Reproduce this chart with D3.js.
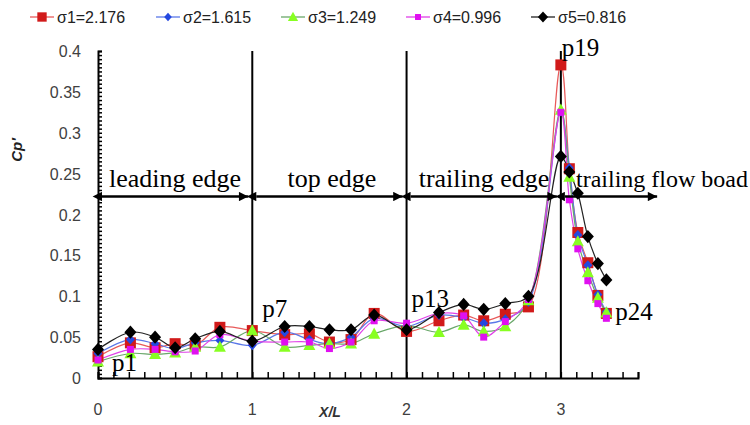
<!DOCTYPE html>
<html>
<head>
<meta charset="utf-8">
<script src="https://cdn.jsdelivr.net/npm/d3@7"></script>
<style>
  html, body { margin: 0; padding: 0; background: #fff; }
  svg { display: block; }
</style>
</head>
<body>
<svg id="chart" width="750" height="425"></svg>
<script>
// Pressure-tap positions along the body (X/L), taps p1..p24
const xPos = [0, 0.21, 0.37, 0.5, 0.63, 0.79, 1.0,
              1.21, 1.37, 1.5, 1.64, 1.79, 2.0,
              2.21, 2.37, 2.5, 2.64, 2.79, 3.0,
              3.055, 3.11, 3.175, 3.24, 3.295];

// Fluctuating pressure coefficient Cp' for each cavitation number
const sigma1 = [0.026, 0.043, 0.037, 0.042, 0.040, 0.062, 0.058,
                0.053, 0.054, 0.044, 0.047, 0.079, 0.057,
                0.070, 0.077, 0.070, 0.078, 0.087, 0.383,
                0.256, 0.178, 0.141, 0.101, 0.079];
const sigma2 = [0.030, 0.047, 0.042, 0.036, 0.043, 0.046, 0.040,
                0.056, 0.047, 0.042, 0.050, 0.073, 0.063,
                0.077, 0.074, 0.067, 0.072, 0.093, 0.326,
                0.257, 0.175, 0.138, 0.102, 0.081];
const sigma3 = [0.020, 0.030, 0.029, 0.031, 0.038, 0.038, 0.058,
                0.038, 0.040, 0.042, 0.042, 0.054, 0.064,
                0.056, 0.065, 0.057, 0.063, 0.095, 0.328,
                0.246, 0.167, 0.129, 0.098, 0.080];
const sigma4 = [0.022, 0.035, 0.035, 0.032, 0.033, 0.053, 0.045,
                0.044, 0.044, 0.036, 0.044, 0.070, 0.067,
                0.079, 0.076, 0.050, 0.069, 0.096, 0.325,
                0.218, 0.158, 0.119, 0.091, 0.073];
const sigma5 = [0.035, 0.056, 0.050, 0.037, 0.048, 0.057, 0.045,
                0.063, 0.063, 0.059, 0.059, 0.077, 0.059,
                0.080, 0.090, 0.084, 0.091, 0.100, 0.271,
                0.252, 0.226, 0.173, 0.140, 0.120];

const seriesNames = ["σ1=2.176", "σ2=1.615", "σ3=1.249", "σ4=0.996", "σ5=0.816"];
const seriesValues = [sigma1, sigma2, sigma3, sigma4, sigma5];

const yTicks = [0, 0.05, 0.1, 0.15, 0.2, 0.25, 0.3, 0.35, 0.4];
const yTickLabels = ["0", "0.05", "0.1", "0.15", "0.2", "0.25", "0.3", "0.35", "0.4"];
const xTicks = [0, 1, 2, 3];
const xTickLabels = ["0", "1", "2", "3"];

// Region boundaries and the Cp' level of the dimension arrows
const regionEdges = [1, 2, 3];
const regionNames = ["leading edge", "top edge", "trailing edge", "trailing flow boad"];
const regionSpans = [[0, 1], [1, 2], [2, 3], [3, 3.65]];
const arrowLevel = 0.222;

// Tap labels
const tapLabels = ["p1", "p7", "p13", "p19", "p24"];
const tapIndex = [0, 6, 12, 18, 23];

// ---- styling ----
const styles = [
  { line: "#e85a5a", fill: "#d11a1a", shape: "square", size: 11 },
  { line: "#5a78e8", fill: "#2448e0", shape: "diamond", size: 9 },
  { line: "#6aa86a", fill: "#88ff22", shape: "triangle", size: 12 },
  { line: "#e040e8", fill: "#e010f0", shape: "square", size: 7 },
  { line: "#222222", fill: "#000000", shape: "diamond", size: 12 }
];

const svg = d3.select("#chart");
const x = d3.scaleLinear().domain([0, 3.5]).range([98, 638]);
const y = d3.scaleLinear().domain([0, 0.4]).range([378, 51]);

function markerPath(shape, s) {
  const h = s / 2;
  if (shape === "square") return `M${-h},${-h}H${h}V${h}H${-h}Z`;
  if (shape === "diamond") return `M0,${-h * 1.1}L${h},0L0,${h * 1.1}L${-h},0Z`;
  return `M0,${-h * 1.05}L${h},${h * 0.8}L${-h},${h * 0.8}Z`;
}

// ---- axes ----
const yAxis = d3.axisLeft(y)
  .tickValues(d3.range(0, 0.4001, 0.005))
  .tickSize(-4)
  .tickFormat("");
svg.append("g").attr("transform", `translate(${x(0)},0)`).call(yAxis)
  .call(g => g.select(".domain").attr("stroke-width", 2))
  .call(g => g.selectAll(".tick line").attr("stroke-width", 1.5));

const xAxis = d3.axisBottom(x)
  .tickValues(d3.range(0, 3.5001, 0.1))
  .tickSize(-6)
  .tickFormat("");
svg.append("g").attr("transform", `translate(0,${y(0)})`).call(xAxis)
  .call(g => g.select(".domain").attr("stroke-width", 2))
  .call(g => g.selectAll(".tick line").attr("stroke-width", 1.5));

// tick labels
svg.append("g").selectAll("text").data(yTicks).join("text")
  .attr("x", 81).attr("y", d => y(d) + 6)
  .attr("text-anchor", "end")
  .attr("font-family", "Liberation Sans, Arial, sans-serif")
  .attr("font-size", 16).attr("fill", "#404040")
  .text((d, i) => yTickLabels[i]);

svg.append("g").selectAll("text").data(xTicks).join("text")
  .attr("x", d => x(d)).attr("y", 415)
  .attr("text-anchor", "middle")
  .attr("font-family", "Liberation Sans, Arial, sans-serif")
  .attr("font-size", 16).attr("fill", "#404040")
  .text((d, i) => xTickLabels[i]);

// axis titles
svg.append("text")
  .attr("transform", "translate(22,150) rotate(-90)")
  .attr("text-anchor", "middle")
  .attr("font-family", "Liberation Sans, Arial, sans-serif")
  .attr("font-size", 15).attr("font-weight", "bold").attr("font-style", "italic")
  .attr("fill", "#222")
  .text("Cp′");
svg.append("text")
  .attr("x", 330).attr("y", 417)
  .attr("text-anchor", "middle")
  .attr("font-family", "Liberation Sans, Arial, sans-serif")
  .attr("font-size", 14).attr("font-weight", "bold").attr("font-style", "italic")
  .attr("fill", "#333")
  .text("X/L");

// ---- region boundaries ----
svg.append("g").selectAll("line").data(regionEdges).join("line")
  .attr("x1", d => x(d)).attr("x2", d => x(d))
  .attr("y1", y(0)).attr("y2", y(0.4))
  .attr("stroke", "#000").attr("stroke-width", 2);

// ---- data lines and markers ----
const line = d3.line()
  .x((d, i) => x(xPos[i]))
  .y(d => y(d))
  .curve(d3.curveCatmullRom.alpha(0.5));

seriesValues.forEach((vals, k) => {
  const st = styles[k];
  svg.append("path").datum(vals)
    .attr("d", line)
    .attr("fill", "none")
    .attr("stroke", st.line)
    .attr("stroke-width", 1.2);
});
seriesValues.forEach((vals, k) => {
  const st = styles[k];
  svg.append("g").selectAll("path").data(vals).join("path")
    .attr("transform", (d, i) => `translate(${x(xPos[i])},${y(d)})`)
    .attr("d", markerPath(st.shape, st.size))
    .attr("fill", st.fill);
});

// ---- dimension arrows with region names ----
const defs = svg.append("defs");
["start", "end"].forEach(kind => {
  defs.append("marker")
    .attr("id", "ah-" + kind)
    .attr("viewBox", "0 0 10 10")
    .attr("refX", kind === "end" ? 10 : 0).attr("refY", 5)
    .attr("markerWidth", 4).attr("markerHeight", 3.6)
    .attr("markerUnits", "strokeWidth")
    .attr("orient", "auto-start-reverse")
    .append("path").attr("d", "M0,0L10,5L0,10Z").attr("fill", "#000");
});

svg.append("g").selectAll("line").data(regionSpans).join("line")
  .attr("x1", d => x(d[0]) + 4).attr("x2", d => x(d[1]) - 4)
  .attr("y1", y(arrowLevel)).attr("y2", y(arrowLevel))
  .attr("stroke", "#000").attr("stroke-width", 2.6)
  .attr("marker-start", "url(#ah-start)")
  .attr("marker-end", "url(#ah-end)");

const regionTextX = [175, 332, 484, 576];
const regionAnchor = ["middle", "middle", "middle", "start"];
const regionSize = [26, 26, 26, 24];
svg.append("g").selectAll("text").data(regionNames).join("text")
  .attr("x", (d, i) => regionTextX[i]).attr("y", 187)
  .attr("text-anchor", (d, i) => regionAnchor[i])
  .attr("font-family", "Liberation Serif, Times New Roman, serif")
  .attr("font-size", (d, i) => regionSize[i]).attr("fill", "#000")
  .text(d => d);

// ---- tap labels (offsets from the tap position, in px) ----
const tapDx = [14, 10, 5, 1, 9];
const tapBaseline = [0.0085, 0.075, 0.087, 0.394, 0.071];
svg.append("g").selectAll("text").data(tapLabels).join("text")
  .attr("x", (d, i) => x(xPos[tapIndex[i]]) + tapDx[i])
  .attr("y", (d, i) => y(tapBaseline[i]))
  .attr("font-family", "Liberation Serif, Times New Roman, serif")
  .attr("font-size", 25).attr("fill", "#000")
  .text(d => d);

// ---- legend ----
const legendX = [30, 156, 281, 406, 531];
const legend = svg.append("g").selectAll("g").data(seriesNames).join("g")
  .attr("transform", (d, i) => `translate(${legendX[i]},17)`);
legend.append("line")
  .attr("x1", 0).attr("x2", 24).attr("y1", 0).attr("y2", 0)
  .attr("stroke", (d, i) => styles[i].line).attr("stroke-width", 1.3);
legend.append("path")
  .attr("transform", "translate(12,0)")
  .attr("d", (d, i) => markerPath(styles[i].shape, styles[i].size * 0.85))
  .attr("fill", (d, i) => styles[i].fill);
legend.append("text")
  .attr("x", 27).attr("y", 6)
  .attr("font-family", "Liberation Sans, Arial, sans-serif")
  .attr("font-size", 16).attr("fill", "#222")
  .text(d => d);
</script>
</body>
</html>
